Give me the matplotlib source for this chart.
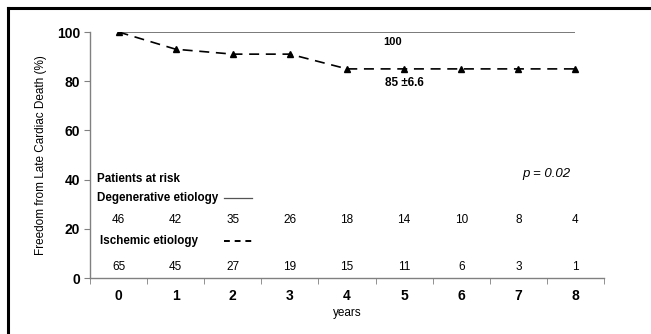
import matplotlib
matplotlib.use("Agg")
import matplotlib.pyplot as plt
from matplotlib.lines import Line2D

years = [0, 1, 2, 3, 4, 5, 6, 7, 8]
degenerative = [100, 100, 100, 100, 100, 100, 100, 100, 100]
ischemic = [100, 93, 91, 91, 85, 85, 85, 85, 85]
risk_degenerative = [46, 42, 35, 26, 18, 14, 10, 8, 4]
risk_ischemic = [65, 45, 27, 19, 15, 11, 6, 3, 1]

plt.rcParams["font.family"] = ["Liberation Sans", "DejaVu Sans"]

fig = plt.figure(figsize=(6.51, 3.34), dpi=100)
ax = fig.add_axes([90 / 651, 1 - 278 / 334, 514 / 651, 246 / 334])

ax.plot(years, degenerative, color="#555555", lw=1.1, solid_capstyle="butt")
ax.plot(years, ischemic, color="black", lw=1.2, ls=(0, (6, 4)),
        marker="^", markersize=4.5)

ax.set_xlim(-0.5, 8.5)
ax.set_ylim(0, 100)
ax.set_yticks([0, 20, 40, 60, 80, 100])
ax.set_xticks(years)
ax.set_xticks([x - 0.5 for x in years] + [8.5], minor=True)
ax.tick_params(axis="x", which="major", length=0, pad=8, labelsize=10)
ax.tick_params(axis="x", which="minor", length=4, direction="out", color="#808080")
ax.tick_params(axis="y", length=4, color="#808080", labelsize=10, pad=3)
for lab in ax.get_xticklabels() + ax.get_yticklabels():
    lab.set_fontweight("bold")

for side in ("top", "right"):
    ax.spines[side].set_visible(False)
for side in ("left", "bottom"):
    ax.spines[side].set_color("#808080")
    ax.spines[side].set_linewidth(1.0)

ax.set_ylabel("Freedom from Late Cardiac Death (%)", fontsize=8.5, labelpad=7)
ax.set_xlabel("years", fontsize=8.5, labelpad=3)

# survival annotations
ax.text(4.8, 95.9, "100", fontsize=8, fontweight="bold", ha="center", va="center")
ax.text(5.0, 79.3, "85 \u00b16.6", fontsize=8.5, fontweight="bold", ha="center", va="center")
ax.text(7.5, 42.3, "p = 0.02", fontsize=9.5, style="italic", ha="center", va="center")

# numbers at risk
ax.text(-0.38, 40.2, "Patients at risk", fontsize=8.4, fontweight="bold", va="center")
ax.text(-0.38, 32.5, "Degenerative etiology", fontsize=8.4, fontweight="bold", va="center")
ax.add_line(Line2D([1.85, 2.33], [32.5, 32.5], color="#555555", lw=0.9))
ax.text(-0.32, 15.0, "Ischemic etiology", fontsize=8.4, fontweight="bold", va="center")
ax.add_line(Line2D([1.85, 2.33], [15.0, 15.0], color="black", lw=1.4, ls=(0, (3, 2.5))))
for x, n in zip(years, risk_degenerative):
    ax.text(x, 23.6, str(n), fontsize=8.5, ha="center", va="center")
for x, n in zip(years, risk_ischemic):
    ax.text(x, 4.5, str(n), fontsize=8.5, ha="center", va="center")

# heavy frame on top and left edges of the figure
fig.add_artist(Line2D([8 / 651, 1], [1 - 8 / 334, 1 - 8 / 334], color="black", lw=2.2,
                      transform=fig.transFigure))
fig.add_artist(Line2D([8 / 651, 8 / 651], [0, 1 - 8 / 334], color="black", lw=2.2,
                      transform=fig.transFigure))

fig.savefig("out.png", dpi=100)
